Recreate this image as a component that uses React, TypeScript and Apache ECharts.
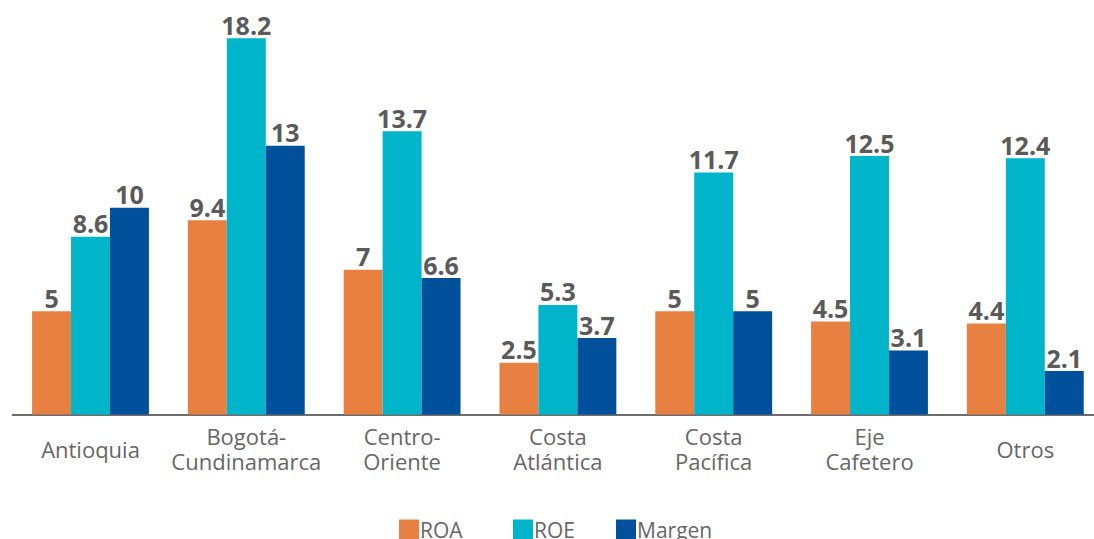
import React, { useEffect, useRef } from "react";
import * as echarts from "echarts";

const categories = [
  "Antioquia",
  "Bogotá-\nCundinamarca",
  "Centro-\nOriente",
  "Costa\nAtlántica",
  "Costa\nPacífica",
  "Eje\nCafetero",
  "Otros",
];
const seriesNames = ["ROA", "ROE", "Margen"];
const roa = [5, 9.4, 7, 2.5, 5, 4.5, 4.4];
const roe = [8.6, 18.2, 13.7, 5.3, 11.7, 12.5, 12.4];
const margen = [10, 13, 6.6, 3.7, 5, 3.1, 2.1];

const FONT = "'Open Sans', 'Liberation Sans', sans-serif";
const COLORS = ["#E88042", "#00B5CA", "#00509B"];
const LEGEND_LEFT = [399, 513, 616];

export default function App() {
  const ref = useRef<HTMLDivElement>(null);
  useEffect(() => {
    if (!ref.current) return;
    const chart = echarts.init(ref.current, undefined, { renderer: "svg" });
    const label = {
      show: true,
      position: "top" as const,
      distance: 1,
      color: "#5a5a5a",
      fontWeight: "bold" as const,
      fontSize: 25,
      fontFamily: FONT,
    };
    const mk = (name: string, data: number[], color: string) => ({
      name,
      type: "bar" as const,
      data,
      itemStyle: { color },
      barGap: "0%",
      barCategoryGap: "25%",
      label,
    });
    chart.setOption({
      animation: false,
      grid: { left: 12.6, right: 0.8, top: 1, bottom: 124.5, containLabel: false },
      legend: seriesNames.map((n, i) => ({
        data: [n],
        left: LEGEND_LEFT[i],
        top: 519,
        padding: 0,
        itemWidth: 20,
        itemHeight: 20,
        icon: "rect",
        textStyle: {
          color: "#666666",
          fontSize: 21,
          lineHeight: 18,
          fontFamily: FONT,
          padding: [0, 0, 2, -4],
        },
      })),
      xAxis: {
        type: "category",
        data: categories,
        axisLine: { show: true, lineStyle: { color: "#6d6d6d", width: 2 } },
        axisTick: { show: false },
        axisLabel: {
          interval: 0,
          margin: 9,
          fontSize: 22,
          fontFamily: FONT,
          color: "#666666",
          lineHeight: 25,
          formatter: (v: string) => (v.indexOf("\n") >= 0 ? v : `{one|${v}}`),
          rich: { one: { lineHeight: 50, fontSize: 22, fontFamily: FONT, color: "#666666" } },
        },
      },
      yAxis: {
        type: "value",
        min: 0,
        max: 20,
        show: false,
        splitLine: { show: false },
      },
      series: [
        mk(seriesNames[0], roa, COLORS[0]),
        mk(seriesNames[1], roe, COLORS[1]),
        mk(seriesNames[2], margen, COLORS[2]),
      ],
    });
    return () => chart.dispose();
  }, []);
  return (
    <div
      style={{
        position: "absolute",
        left: 0,
        top: 0,
        width: 1094,
        height: 539,
        overflow: "hidden",
      }}
    >
      <div ref={ref} style={{ width: 1104, height: 539 }} />
    </div>
  );
}
